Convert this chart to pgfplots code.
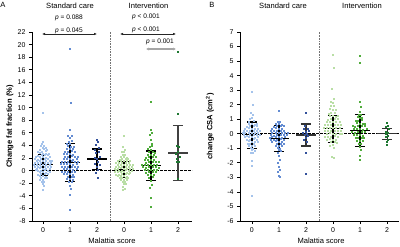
\documentclass[border=0pt]{standalone}
\usepackage{fontspec}
\setmainfont{Liberation Sans}
\usepackage{pgfplots}
\pgfplotsset{compat=1.18}
\usetikzlibrary{arrows.meta}
\definecolor{scA}{RGB}{165,195,235}
\definecolor{scB}{RGB}{100,140,210}
\definecolor{scC}{RGB}{50,80,155}
\definecolor{inA}{RGB}{185,222,165}
\definecolor{inB}{RGB}{80,172,60}
\definecolor{inC}{RGB}{30,120,50}
\pgfplotsset{
  panel/.style={
    scale only axis, height=189bp,
    axis x line=bottom, axis y line=left,
    axis line style={-, line width=0.8bp, black},
    tick align=outside, major tick length=3bp,
    tick style={line width=0.8bp, black},
    xtick={0,1,2,3,4,5}, xticklabels={0,1,2,0,1,2},
    ticklabel style={font=\fontsize{7}{8}\selectfont},
    /pgf/number format/assume math mode=true,
    xlabel={Malattia score},
    xlabel style={font=\fontsize{7.6}{9}\selectfont, at={(axis description cs:0.5,-0.106)}, anchor=center},
    ylabel style={font=\fontsize{7.6}{9}\selectfont\bfseries, anchor=center},
    clip=false,
  },
  dots/.style={only marks, mark=square*, mark size=0.5bp, color=#1, mark options={solid, line width=0bp, draw=#1, fill=#1}},
  ebar/.style={#1, line width=1.2bp, forget plot},
  ebar/.default=black,
}
\begin{document}
\begin{tikzpicture}
\useasboundingbox (0bp,0bp) rectangle (400bp,247bp);
% ---------------- Panel A ----------------
\begin{axis}[panel, at={(32bp,26bp)}, anchor=south west, width=160bp,
  xmin=-0.41, xmax=5.52, ymin=-8, ymax=22, ytick={-8,-6,...,22},
  ylabel={Change fat fraction (\%)},
  ylabel style={at={(axis description cs:-0.1375,0.5)}}]
\draw[black!55, line width=0.8bp, dash pattern=on 0.8bp off 0.8bp] (axis cs:2.5,-8) -- (axis cs:2.5,22);
\addplot[dots=scA] table[row sep=\\]{x y\\
0 4.6\\ -0.05 4.25\\ 0.05 3.95\\ -0.08 3.85\\ 0 3.6\\ 0.1 3.55\\ -0.1 3.3\\ 0.05 3.35\\ 0.15 3.25\\
-0.05 3.0\\ 0.1 3.05\\ -0.18 2.95\\ 0 2.7\\ -0.12 2.75\\ 0.12 2.65\\ 0.22 2.7\\
-0.05 2.4\\ 0.08 2.45\\ -0.2 2.35\\ 0.18 2.4\\ 0 2.1\\ -0.12 2.15\\ 0.12 2.05\\ -0.25 2.1\\ 0.25 2.12\\
-0.06 1.8\\ 0.06 1.85\\ -0.18 1.75\\ 0.18 1.8\\ -0.3 1.82\\
0 1.5\\ -0.12 1.55\\ 0.12 1.45\\ -0.24 1.5\\ 0.24 1.52\\ 0.32 1.48\\
-0.06 1.2\\ 0.06 1.25\\ -0.18 1.15\\ 0.18 1.2\\ -0.3 1.22\\ 0.3 1.18\\
0 0.9\\ -0.12 0.95\\ 0.12 0.85\\ -0.24 0.9\\ 0.24 0.92\\ -0.34 0.88\\
-0.06 0.6\\ 0.06 0.65\\ -0.18 0.55\\ 0.18 0.6\\ -0.3 0.62\\ 0.3 0.58\\
0 0.3\\ -0.12 0.35\\ 0.12 0.25\\ -0.24 0.3\\ 0.24 0.32\\
-0.06 0\\ 0.06 0.05\\ -0.18 -0.05\\ 0.18 0\\ -0.28 0.02\\
0 -0.3\\ -0.12 -0.25\\ 0.12 -0.35\\ 0.24 -0.3\\
-0.06 -0.6\\ 0.06 -0.55\\ -0.18 -0.65\\ 0.18 -0.6\\
0 -0.9\\ -0.12 -0.85\\ 0.12 -0.95\\ -0.06 -1.2\\ 0.06 -1.15\\ 0.16 -1.25\\
0 -1.5\\ -0.1 -1.55\\ 0.05 -1.8\\ -0.05 -1.85\\ 0 -2.1\\ 0.03 -2.5\\ 0 -3.05\\ 0 9.1\\
};
\addplot[dots=scB] table[row sep=\\]{x y\\
1 19.3\\ 1.02 10.8\\ 1 6.45\\ 0.94 5.5\\ 1.06 5.45\\ 1 5.1\\ 0.95 4.6\\ 1.08 4.65\\ 1 4.2\\ 0.9 4.25\\
1.05 3.8\\ 0.94 3.85\\ 1.14 3.75\\ 1 3.4\\ 0.88 3.45\\ 1.12 3.35\\
0.94 3.0\\ 1.06 3.05\\ 0.82 2.95\\ 1.18 3.0\\ 1 2.6\\ 0.88 2.65\\ 1.12 2.55\\ 0.78 2.6\\
0.94 2.2\\ 1.06 2.25\\ 0.82 2.15\\ 1.18 2.2\\ 1.28 2.22\\
1 1.8\\ 0.88 1.85\\ 1.12 1.75\\ 0.76 1.8\\ 1.24 1.82\\
0.94 1.4\\ 1.06 1.45\\ 0.82 1.35\\ 1.18 1.4\\ 0.7 1.42\\ 1.3 1.38\\
1 1.0\\ 0.88 1.05\\ 1.12 0.95\\ 0.76 1.0\\ 1.24 1.02\\ 0.66 0.98\\
0.94 0.6\\ 1.06 0.65\\ 0.82 0.55\\ 1.18 0.6\\ 0.7 0.62\\ 1.3 0.58\\
1 0.2\\ 0.88 0.25\\ 1.12 0.15\\ 0.76 0.2\\ 1.24 0.22\\
0.94 -0.2\\ 1.06 -0.15\\ 0.82 -0.25\\ 1.18 -0.2\\ 0.72 -0.18\\
1 -0.6\\ 0.88 -0.55\\ 1.12 -0.65\\ 0.78 -0.6\\
0.94 -1.0\\ 1.06 -0.95\\ 1.16 -1.05\\ 1 -1.4\\ 0.9 -1.35\\ 1.1 -1.45\\
0.96 -1.8\\ 1.06 -1.85\\ 1 -2.5\\ 1.03 -2.9\\ 1 -3.8\\ 1 -6.25\\
};
\addplot[dots=scC] table[row sep=\\]{x y\\
2 4.86\\ 2.04 4.5\\ 1.98 4.06\\ 2.06 3.53\\ 1.94 3.3\\ 2.08 3.0\\ 1.96 2.74\\ 2.1 2.2\\ 1.92 2.0\\
1.99 1.79\\ 2.05 1.31\\ 1.93 1.0\\ 2.1 0.89\\ 2.0 0.5\\ 2.02 0.1\\ 1.96 -0.43\\ 2.03 -1.23\\
};
\addplot[dots=inA] table[row sep=\\]{x y\\
3 5.5\\ 2.97 3.7\\ 3.04 3.3\\ 3 2.9\\ 2.92 2.95\\ 3.05 2.5\\ 2.95 2.55\\
3 2.1\\ 2.9 2.15\\ 3.1 2.05\\ 2.94 1.8\\ 3.06 1.85\\ 2.84 1.75\\ 3.16 1.8\\
3 1.5\\ 2.88 1.55\\ 3.12 1.45\\ 2.78 1.5\\ 3.22 1.52\\
2.94 1.2\\ 3.06 1.25\\ 2.82 1.15\\ 3.18 1.2\\ 2.72 1.22\\
3 0.9\\ 2.88 0.95\\ 3.12 0.85\\ 2.76 0.9\\ 3.24 0.92\\ 3.32 0.88\\
2.94 0.6\\ 3.06 0.65\\ 2.82 0.55\\ 3.18 0.6\\ 2.7 0.62\\ 3.3 0.58\\
3 0.3\\ 2.88 0.35\\ 3.12 0.25\\ 2.76 0.3\\ 3.24 0.32\\ 2.66 0.28\\ 3.34 0.3\\
2.94 0\\ 3.06 0.05\\ 2.82 -0.05\\ 3.18 0\\ 2.7 0.02\\ 3.3 -0.02\\
3 -0.3\\ 2.88 -0.25\\ 3.12 -0.35\\ 2.76 -0.3\\ 3.24 -0.32\\ 2.66 -0.28\\
2.94 -0.6\\ 3.06 -0.55\\ 2.82 -0.65\\ 3.18 -0.6\\ 2.72 -0.62\\
3 -0.9\\ 2.88 -0.85\\ 3.12 -0.95\\ 2.78 -0.9\\
2.94 -1.2\\ 3.06 -1.15\\ 2.84 -1.25\\ 3.16 -1.2\\
3 -1.5\\ 2.9 -1.55\\ 3.1 -1.45\\ 2.95 -1.8\\ 3.05 -1.85\\ 3 -2.1\\ 3.08 -2.15\\
2.97 -2.6\\ 3.03 -2.9\\ 2.98 -3.1\\
};
\addplot[dots=inB] table[row sep=\\]{x y\\
4 10.85\\ 4 6.4\\ 4.03 6.0\\ 3.98 5.6\\ 4 4.8\\ 4.04 4.2\\ 3.95 3.8\\ 4.05 3.85\\ 4 3.3\\ 3.9 3.35\\
4.06 2.9\\ 3.94 2.95\\ 4.15 2.85\\ 4 2.5\\ 3.88 2.55\\ 4.12 2.45\\
3.94 2.1\\ 4.06 2.15\\ 3.82 2.05\\ 4.18 2.1\\ 4 1.7\\ 3.88 1.75\\ 4.12 1.65\\ 3.76 1.7\\
3.94 1.3\\ 4.06 1.35\\ 3.82 1.25\\ 4.18 1.3\\ 4.28 1.32\\
4 0.9\\ 3.88 0.95\\ 4.12 0.85\\ 3.76 0.9\\ 4.24 0.92\\ 3.68 0.88\\
3.94 0.5\\ 4.06 0.55\\ 3.82 0.45\\ 4.18 0.5\\ 3.7 0.52\\ 4.3 0.48\\
4 0.1\\ 3.88 0.15\\ 4.12 0.05\\ 3.76 0.1\\ 4.24 0.12\\
3.94 -0.3\\ 4.06 -0.25\\ 3.82 -0.35\\ 4.18 -0.3\\
4 -0.7\\ 3.88 -0.65\\ 4.12 -0.75\\ 3.94 -1.1\\ 4.06 -1.05\\
4 -1.6\\ 4.03 -2.3\\ 3.97 -2.7\\ 4 -4.4\\ 4 -5.8\\
};
\addplot[dots=inC] table[row sep=\\]{x y\\
5 18.85\\ 5 9.0\\ 4.96 3.9\\ 5.05 3.75\\ 5 2.9\\ 4.94 2.6\\ 5.06 2.2\\ 4.98 1.8\\ 5.04 1.4\\ 4.95 1.3\\ 5 -1.3\\
};
\draw[black, line width=0.9bp, dash pattern=on 2.6bp off 1.4bp] (axis cs:-0.41,0) -- (axis cs:5.52,0);
% error bars
\addplot[ebar] coordinates {(0,-0.75) (0,2.58)};
\addplot[ebar] coordinates {(-0.19,-0.75) (0.19,-0.75)};
\addplot[ebar] coordinates {(-0.19,2.58) (0.19,2.58)};
\addplot[ebar] coordinates {(-0.36,0.92) (0.36,0.92)};
\addplot[ebar] coordinates {(1,-1.68) (1,4.35)};
\addplot[ebar] coordinates {(0.81,-1.68) (1.19,-1.68)};
\addplot[ebar] coordinates {(0.81,4.35) (1.19,4.35)};
\addplot[ebar] coordinates {(0.64,1.33) (1.36,1.33)};
\addplot[ebar] coordinates {(2,0.2) (2,3.42)};
\addplot[ebar] coordinates {(1.81,0.2) (2.19,0.2)};
\addplot[ebar] coordinates {(1.81,3.42) (2.19,3.42)};
\addplot[ebar] coordinates {(1.64,1.85) (2.36,1.85)};
\addplot[ebar] coordinates {(3,-1.05) (3,1.42)};
\addplot[ebar] coordinates {(2.81,-1.05) (3.19,-1.05)};
\addplot[ebar] coordinates {(2.81,1.42) (3.19,1.42)};
\addplot[ebar] coordinates {(2.64,0.2) (3.36,0.2)};
\addplot[ebar] coordinates {(4,-1.55) (4,3.12)};
\addplot[ebar] coordinates {(3.81,-1.55) (4.19,-1.55)};
\addplot[ebar] coordinates {(3.81,3.12) (4.19,3.12)};
\addplot[ebar] coordinates {(3.64,0.8) (4.36,0.8)};
\addplot[ebar=black!75] coordinates {(5,-1.55) (5,7.13)};
\addplot[ebar=black!75] coordinates {(4.81,-1.55) (5.19,-1.55)};
\addplot[ebar=black!75] coordinates {(4.81,7.13) (5.19,7.13)};
\addplot[ebar=black!75] coordinates {(4.64,2.8) (5.36,2.8)};
\end{axis}
% ---------------- Panel B ----------------
\begin{axis}[panel, at={(240bp,26bp)}, anchor=south west, width=159bp,
  xmin=-0.44, xmax=5.44, ymin=-6, ymax=7, ytick={-6,...,7},
  xlabel style={at={(axis description cs:0.51,-0.106)}},
  ylabel={change CSA (cm\textsuperscript{2})},
  ylabel style={at={(axis description cs:-0.189,0.5)}}]
\draw[black!55, line width=0.8bp, dash pattern=on 0.8bp off 0.8bp] (axis cs:2.5,-6) -- (axis cs:2.5,7);
\addplot[dots=scA] table[row sep=\\]{x y\\
0 2.85\\ 0.03 1.95\\ -0.04 1.45\\ 0.05 1.3\\ 0 1.05\\ -0.08 1.0\\ 0.06 0.85\\ -0.12 0.82\\
0 0.65\\ -0.1 0.67\\ 0.1 0.63\\ 0.18 0.65\\ -0.06 0.5\\ 0.06 0.52\\ -0.18 0.48\\ 0.2 0.5\\
0 0.35\\ -0.12 0.37\\ 0.12 0.33\\ -0.24 0.35\\ 0.24 0.36\\
-0.06 0.2\\ 0.06 0.22\\ -0.18 0.18\\ 0.18 0.2\\ -0.3 0.21\\ 0.3 0.19\\
0 0.05\\ -0.12 0.07\\ 0.12 0.03\\ -0.24 0.05\\ 0.24 0.06\\ -0.34 0.04\\
-0.06 -0.1\\ 0.06 -0.08\\ -0.18 -0.12\\ 0.18 -0.1\\ -0.3 -0.09\\ 0.3 -0.11\\
0 -0.25\\ -0.12 -0.23\\ 0.12 -0.27\\ -0.24 -0.25\\ 0.24 -0.24\\
-0.06 -0.4\\ 0.06 -0.38\\ -0.18 -0.42\\ 0.18 -0.4\\
0 -0.55\\ -0.12 -0.53\\ 0.12 -0.57\\ 0.22 -0.55\\
-0.06 -0.7\\ 0.06 -0.68\\ -0.16 -0.72\\ 0 -0.85\\ -0.1 -0.83\\ 0.1 -0.87\\
-0.05 -1.0\\ 0.05 -1.02\\ 0 -1.15\\ 0.1 -1.17\\ -0.04 -1.3\\ 0.04 -1.32\\
0 -1.9\\ 0.02 -2.2\\ 0 -4.3\\
};
\addplot[dots=scB] table[row sep=\\]{x y\\
1 1.6\\ 0.95 0.8\\ 1.05 0.82\\ 1 0.65\\ 0.9 0.67\\ 1.12 0.63\\
0.94 0.5\\ 1.06 0.52\\ 0.82 0.48\\ 1.18 0.5\\ 1 0.35\\ 0.88 0.37\\ 1.12 0.33\\ 0.76 0.35\\
0.94 0.2\\ 1.06 0.22\\ 0.82 0.18\\ 1.18 0.2\\ 0.72 0.21\\
1 0.05\\ 0.88 0.07\\ 1.12 0.03\\ 0.76 0.05\\ 1.24 0.06\\ 1.32 0.04\\
0.94 -0.1\\ 1.06 -0.08\\ 0.82 -0.12\\ 1.18 -0.1\\ 0.7 -0.09\\ 1.3 -0.11\\
1 -0.25\\ 0.88 -0.23\\ 1.12 -0.27\\ 0.76 -0.25\\ 1.24 -0.24\\ 0.66 -0.26\\
0.94 -0.4\\ 1.06 -0.38\\ 0.82 -0.42\\ 1.18 -0.4\\ 0.7 -0.41\\
1 -0.55\\ 0.88 -0.53\\ 1.12 -0.57\\ 0.76 -0.55\\
0.94 -0.7\\ 1.06 -0.68\\ 1.18 -0.72\\ 1 -0.85\\ 0.9 -0.83\\ 1.1 -0.87\\
0.95 -1.0\\ 1.05 -1.02\\ 1 -1.15\\ 1.08 -1.17\\ 0.96 -1.3\\
1 -1.55\\ 1.03 -1.8\\ 0.98 -2.0\\ 1 -2.3\\ 1.04 -2.5\\ 0.97 -2.6\\ 1 -2.9\\ 1.03 -3.0\\
};
\addplot[dots=scC] table[row sep=\\]{x y\\
2 1.45\\ 1.96 0.5\\ 2.06 0.35\\ 1.92 0.3\\ 2.1 0.2\\ 2.0 0.15\\ 1.9 0.05\\ 2.04 0.0\\
1.96 -0.1\\ 2.08 -0.15\\ 2.0 -0.3\\ 1.94 -0.4\\ 2.03 -0.55\\ 2 -1.35\\ 1.99 -2.8\\
};
\addplot[dots=inA] table[row sep=\\]{x y\\
3 5.45\\ 3.02 4.5\\ 2.98 3.05\\ 3.03 2.4\\ 3 2.15\\ 2.94 2.17\\ 3.04 1.9\\ 2.92 1.92\\
3 1.65\\ 2.9 1.67\\ 3.1 1.63\\ 2.94 1.4\\ 3.06 1.42\\ 2.84 1.38\\
3 1.2\\ 2.88 1.22\\ 3.12 1.18\\ 3.2 1.2\\ 2.94 1.0\\ 3.06 1.02\\ 2.82 0.98\\ 3.18 1.0\\
3 0.8\\ 2.88 0.82\\ 3.12 0.78\\ 2.76 0.8\\ 3.24 0.81\\
2.94 0.6\\ 3.06 0.62\\ 2.82 0.58\\ 3.18 0.6\\ 2.7 0.61\\ 3.3 0.59\\
3 0.4\\ 2.88 0.42\\ 3.12 0.38\\ 2.76 0.4\\ 3.24 0.41\\ 2.66 0.39\\
2.94 0.2\\ 3.06 0.22\\ 2.82 0.18\\ 3.18 0.2\\ 2.7 0.21\\ 3.3 0.19\\
3 0\\ 2.88 0.02\\ 3.12 -0.02\\ 2.76 0\\ 3.24 0.01\\ 3.33 -0.01\\
2.94 -0.2\\ 3.06 -0.18\\ 2.82 -0.22\\ 3.18 -0.2\\ 2.72 -0.21\\
3 -0.4\\ 2.88 -0.38\\ 3.12 -0.42\\ 2.78 -0.4\\
2.94 -0.6\\ 3.06 -0.58\\ 3.16 -0.62\\ 3 -0.8\\ 2.9 -0.82\\ 3.05 -1.0\\ 2.97 -1.6\\ 3.03 -1.7\\
};
\addplot[dots=inB] table[row sep=\\]{x y\\
4 5.35\\ 4 4.9\\ 4 2.2\\ 4.02 1.85\\ 3.98 1.5\\ 4.03 1.3\\ 3.95 1.32\\
4 1.1\\ 3.92 1.12\\ 4.08 1.08\\ 3.94 0.9\\ 4.06 0.92\\ 3.86 0.88\\
4 0.7\\ 3.9 0.72\\ 4.1 0.68\\ 4.2 0.7\\ 3.94 0.5\\ 4.06 0.52\\ 3.82 0.48\\ 4.18 0.5\\ 3.74 0.51\\
4 0.3\\ 3.88 0.32\\ 4.12 0.28\\ 3.76 0.3\\ 4.24 0.31\\
3.94 0.1\\ 4.06 0.12\\ 3.82 0.08\\ 4.18 0.1\\ 3.72 0.11\\
4 -0.1\\ 3.88 -0.08\\ 4.12 -0.12\\ 3.78 -0.1\\
3.94 -0.3\\ 4.06 -0.28\\ 3.84 -0.32\\ 4.16 -0.3\\
4 -0.5\\ 3.9 -0.48\\ 4.1 -0.52\\ 3.95 -0.7\\ 4.05 -0.72\\ 4 -0.9\\ 4.03 -1.1\\ 3.98 -1.55\\ 4 -1.8\\
};
\addplot[dots=inC] table[row sep=\\]{x y\\
5 0.74\\ 5.04 0.55\\ 4.96 0.45\\ 5.06 0.3\\ 4.95 0.15\\ 5.02 0.05\\ 4.97 -0.05\\ 5.05 -0.15\\
4.96 -0.25\\ 5.03 -0.4\\ 4.98 -0.55\\ 5 -0.75\\
};
\draw[black, line width=0.9bp, dash pattern=on 2.6bp off 1.4bp] (axis cs:-0.44,0) -- (axis cs:5.44,0);
\addplot[ebar] coordinates {(0,-1.0) (0,0.81)};
\addplot[ebar] coordinates {(-0.19,-1.0) (0.19,-1.0)};
\addplot[ebar] coordinates {(-0.19,0.81) (0.19,0.81)};
\addplot[ebar] coordinates {(-0.36,-0.06) (0.36,-0.06)};
\addplot[ebar] coordinates {(1,-1.22) (1,0.55)};
\addplot[ebar] coordinates {(0.81,-1.22) (1.19,-1.22)};
\addplot[ebar] coordinates {(0.81,0.55) (1.19,0.55)};
\addplot[ebar] coordinates {(0.64,-0.35) (1.36,-0.35)};
\addplot[ebar=black!80] coordinates {(2,-0.84) (2,0.67)};
\addplot[ebar=black!80] coordinates {(1.81,-0.84) (2.19,-0.84)};
\addplot[ebar=black!80] coordinates {(1.81,0.67) (2.19,0.67)};
\addplot[ebar=black!80] coordinates {(1.64,-0.08) (2.36,-0.08)};
\addplot[ebar] coordinates {(3,-0.59) (3,1.27)};
\addplot[ebar] coordinates {(2.81,-0.59) (3.19,-0.59)};
\addplot[ebar] coordinates {(2.81,1.27) (3.19,1.27)};
\addplot[ebar] coordinates {(2.64,0.35) (3.36,0.35)};
\addplot[ebar] coordinates {(4,-0.9) (4,1.34)};
\addplot[ebar] coordinates {(3.81,-0.9) (4.19,-0.9)};
\addplot[ebar] coordinates {(3.81,1.34) (4.19,1.34)};
\addplot[ebar] coordinates {(3.64,0.22) (4.36,0.22)};
\addplot[ebar=black!80] coordinates {(5,-0.42) (5,0.38)};
\addplot[ebar=black!80] coordinates {(4.81,-0.42) (5.19,-0.42)};
\addplot[ebar=black!80] coordinates {(4.81,0.38) (5.19,0.38)};
\addplot[ebar=black!80] coordinates {(4.64,0.0) (5.36,0.0)};
\end{axis}
% ---------------- annotations ----------------
\begin{scope}[every node/.style={font=\fontsize{7.6}{9}\selectfont, inner sep=0pt}]
\node at (3bp,242.5bp) {A};
\node at (212bp,242.5bp) {B};
\node at (70bp,241.3bp) {Standard care};
\node at (148.5bp,241.3bp) {Intervention};
\node at (283bp,241.3bp) {Standard care};
\node at (362bp,241.3bp) {Intervention};
\end{scope}
\begin{scope}[every node/.style={font=\fontsize{6.6}{8}\selectfont, inner sep=0pt}]
\node at (69bp,228.7bp) {\textit{p} = 0.088};
\node at (69bp,216.5bp) {\textit{p} = 0.045};
\node at (146bp,229.7bp) {\textit{p} < 0.001};
\node at (146bp,217bp) {\textit{p} < 0.001};
\node at (160bp,204.7bp) {\textit{p} = 0.001};
\end{scope}
\draw[{Latex[length=3bp,width=2.6bp]}-{Latex[length=3bp,width=2.6bp]}, line width=0.6bp, black!85] (42bp,213bp) -- (97bp,213bp);
\draw[{Latex[length=3bp,width=2.6bp]}-{Latex[length=3bp,width=2.6bp]}, line width=0.6bp, black!85] (120bp,213bp) -- (176bp,213bp);
\draw[{Latex[length=3bp,width=3.2bp]}-{Latex[length=3bp,width=3.2bp]}, line width=1.6bp, black!35] (146bp,198bp) -- (176bp,198bp);
\end{tikzpicture}
\end{document}
